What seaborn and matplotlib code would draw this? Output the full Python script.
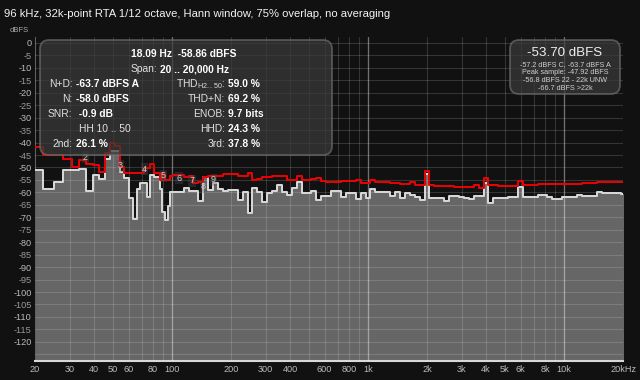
import numpy as np
import pandas as pd
import matplotlib
matplotlib.use('Agg')
import matplotlib.pyplot as plt
from matplotlib.patches import FancyBboxPatch
from matplotlib.transforms import IdentityTransform
from matplotlib.ticker import FixedLocator, FixedFormatter, NullFormatter
import seaborn as sns

# 96 kHz, 32k-point FFT
fs = 96000
nfft = 32768
fund = 18.09

# low end drawn per FFT bin (bins 7..34)
bin_k = np.arange(7, 35)
bin_level = [-51.0, -58.8, -55.7, -51.0, -51.0, -50.6, -59.5, -53.0, -54.8, -46.7,
             -43.2, -43.2, -51.7, -54.4, -62.4, -70.8, -58.8, -56.4, -56.4, -62.0,
             -53.0, -53.7, -53.7, -58.8, -67.7, -71.1, -65.5, -59.7]
bin_peak = [-41.9, -45.0, -45.0, -46.7, -50.0, -47.0, -48.5, -49.0, -51.7, -44.2,
            -40.3, -41.5, -49.6, -52.3, -52.3, -52.3, -52.3, -52.3, -50.3, -50.3,
            -48.7, -52.3, -52.3, -55.0, -52.5, -55.0, -55.0, -53.5]

# above ~100 Hz: 1/12 octave bands, n steps from 1 kHz
band_n = np.arange(-39, 53)
band_level = [-59.7, -59.7, -58.4, -59.5, -59.5, -63.5, -53.7, -59.0, -56.4, -58.8,
              -59.3, -59.0, -59.0, -63.0, -59.7, -68.4, -58.4, -59.7, -63.7, -60.4,
              -59.3, -57.0, -59.7, -61.0, -58.4, -55.9, -60.4, -60.4, -59.3, -63.0,
              -61.4, -61.4, -59.3, -59.3, -61.7, -60.4, -60.4, -62.8, -60.4,
              -62.4, -58.8, -59.7, -59.7, -59.7, -61.6, -60.0, -62.4, -60.4, -61.0,
              -61.7, -63.0, -52.6, -62.4, -62.4, -62.4, -63.4, -61.6, -61.6, -61.8,
              -62.4, -62.8, -61.4, -61.4, -56.4, -64.4, -62.1, -62.1, -62.1, -62.0,
              -62.0, -58.0, -62.0, -62.0, -62.0, -61.0, -61.0, -62.0, -62.8, -62.8,
              -61.8, -62.0, -62.0, -61.0, -61.6, -61.6, -61.6, -59.7, -60.4, -60.4,
              -60.4, -60.4, -60.8]
band_peak = [-53.0, -53.0, -53.7, -53.5, -56.4, -56.0, -53.7, -53.4, -53.4, -53.4,
             -52.6, -52.7, -52.7, -53.4, -53.4, -52.3, -55.0, -54.6, -53.8, -53.8,
             -53.4, -53.4, -53.4, -55.2, -55.2, -53.4, -55.2, -55.2, -54.6, -54.3,
             -55.3, -55.9, -55.9, -55.9, -55.6, -55.3, -55.3, -55.0, -56.3,
             -56.3, -55.2, -55.9, -55.9, -55.9, -56.3, -56.3, -56.6, -56.6, -56.0,
             -57.0, -57.0, -51.3, -57.0, -57.4, -57.4, -57.6, -57.6, -58.0, -58.0,
             -57.9, -57.9, -57.0, -58.2, -54.1, -57.0, -57.0, -57.6, -57.6, -57.4,
             -57.4, -55.3, -57.0, -57.0, -57.0, -56.8, -56.8, -56.8, -56.6, -56.6,
             -56.6, -56.6, -56.6, -56.6, -56.3, -56.3, -56.3, -55.8, -55.8, -56.0,
             -56.0, -56.0, -56.0]

harm_order = [2, 3, 4, 5, 6, 7, 8, 9]
harm_label_db = [-45.9, -49.3, -50.7, -53.4, -54.3, -55.4, -57.7, -55.0]

xtick_vals = [20, 30, 40, 50, 60, 80, 100, 200, 300, 400, 600, 800,
              1000, 2000, 3000, 4000, 5000, 6000, 8000, 10000, 20000]
xtick_text = ['20', '30', '40', '50', '60', '80', '100', '200', '300', '400', '600', '800',
              '1k', '2k', '3k', '4k', '5k', '6k', '8k', '10k', '20kHz']
xgrid_vals = [20, 30, 40, 50, 60, 70, 80, 90, 200, 300, 400, 500, 600, 700, 800, 900,
              2000, 3000, 4000, 5000, 6000, 7000, 8000, 9000, 20000]
decades = [100, 1000, 10000]

# step edges
df_bin = fs / nfft
bin_left = (bin_k - 0.5) * df_bin
band_center = 1000 * 2.0 ** (band_n / 12)
band_left = band_center * 2 ** (-1 / 24)
band_left[0] = (bin_k[-1] + 0.5) * df_bin
edges = np.concatenate([bin_left, band_left, [band_center[-1] * 2 ** (1 / 24)]])
level = np.array(bin_level + band_level)
peak = np.array(bin_peak + band_peak)
spec = pd.DataFrame({'freq': edges,
                     'level': np.append(level, level[-1]),
                     'peak': np.append(peak, peak[-1])})

sns.set_style('dark')
plt.rcParams['font.family'] = ['Liberation Sans', 'DejaVu Sans']

BG = '#111111'
fig = plt.figure(figsize=(6.4, 3.8), dpi=100, facecolor=BG)
ax = fig.add_axes([35 / 640, 1 - 361 / 380, 588 / 640, 323.5 / 380], facecolor=BG)

ax.fill_between(spec['freq'], spec['level'], -140, step='post', color='#666666', lw=0, zorder=1)
sns.lineplot(data=spec, x='freq', y='level', drawstyle='steps-post', color='#d6d6d6',
             lw=1.45, estimator=None, sort=False, legend=False, ax=ax, zorder=3)
sns.lineplot(data=spec, x='freq', y='peak', drawstyle='steps-post', color='#e80000',
             lw=1.45, estimator=None, sort=False, legend=False, ax=ax, zorder=3.1)

ax.set_xscale('log')
ax.set_xlim(20, 20000)
ax.set_ylim(-127.7, 2.2)

# grid
ax.set_axisbelow(False)
ax.xaxis.set_major_locator(FixedLocator(xtick_vals))
ax.xaxis.set_major_formatter(FixedFormatter(xtick_text))
ax.xaxis.set_minor_locator(FixedLocator(xgrid_vals))
ax.xaxis.set_minor_formatter(NullFormatter())
yt = np.arange(-125, 1, 5)
ax.set_yticks(yt)
ax.set_yticklabels(['' if v == -125 else str(v) for v in yt])
ax.grid(True, which='both', axis='x', color='white', alpha=0.15, lw=0.8)
ax.grid(True, which='major', axis='y', color='white', alpha=0.15, lw=0.8)
for d in decades:
    ax.axvline(d, color='white', alpha=0.3, lw=1.0, zorder=2.6)

ax.tick_params(axis='both', which='both', length=0, labelsize=6.6, colors='#bbbbbb')
ax.tick_params(axis='x', pad=3)
ax.tick_params(axis='y', pad=2.5)
for lab, v in zip(ax.get_yticklabels(), yt):
    if v % 10 != 0:
        lab.set_color('#9a9a9a')
ax.set_xlabel('')
ax.set_ylabel('')
for s in ['top', 'right']:
    ax.spines[s].set_visible(False)
ax.spines['left'].set_color('#444444')
ax.spines['bottom'].set_color('#d8d8d8')
ax.spines['bottom'].set_linewidth(1.5)

# harmonic markers
for h, db in zip(harm_order, harm_label_db):
    ax.text(fund * h, db, str(h), color='#cccccc', fontsize=6.5, ha='center', va='center', zorder=4,
            bbox=dict(boxstyle='square,pad=0.15', facecolor='#555555', alpha=0.3, lw=0))

# title and unit
fig.text(4 / 640, 1 - 14 / 380, '96 kHz, 32k-point RTA 1/12 octave, Hann window, 75% overlap, no averaging',
         color='#f2f2f2', fontsize=8.1, va='center', ha='left')
fig.text(10 / 640, 1 - 30 / 380, 'dBFS', color='#aaaaaa', fontsize=5.5, va='center')


def box(x0, y0, x1, y1):
    p = FancyBboxPatch((x0, 380 - y1), x1 - x0, y1 - y0, boxstyle='round,pad=0,rounding_size=9',
                       transform=IdentityTransform(), facecolor='#3a3a3a', alpha=0.72,
                       edgecolor='#6a6a6a', lw=1.3, zorder=5)
    fig.add_artist(p)


def put(x, y, s, ha='left', bold=False, size=7.4, color='#e0e0e0'):
    fig.text(x / 640, 1 - y / 380, s, ha=ha, va='center', fontsize=size, color=color,
             fontweight='bold' if bold else 'normal', zorder=6)


box(40, 40, 332, 155)
put(183.5, 54, '18.09 Hz  -58.86 dBFS', ha='center', bold=True, color='white')
put(157, 69, 'Span:', ha='right')
put(160, 69, '20 .. 20,000 Hz', bold=True, color='white')
rows = [(84, 'N+D:', '-63.7 dBFS A', r'THD$_{\mathregular{H2..50}}$:', '59.0 %'),
        (99, 'N:', '-58.0 dBFS', 'THD+N:', '69.2 %'),
        (113.7, 'SNR:', ' -0.9 dB', 'ENOB:', '9.7 bits'),
        (128.7, None, None, 'HHD:', '24.3 %'),
        (143.7, '2nd:', '26.1 %', '3rd:', '37.8 %')]
for y, l1, v1, l2, v2 in rows:
    if l1:
        put(72.5, y, l1, ha='right')
        put(75.5, y, v1, bold=True, color='white')
    put(225, y, l2, ha='right')
    put(228, y, v2, bold=True, color='white')
put(104.5, 128.7, 'HH 10 .. 50', ha='center')

box(510, 40, 620, 94)
put(564.5, 53.5, '-53.70 dBFS', ha='center', size=9.6, color='#eeeeee')
put(565, 64.3, '-57.2 dBFS C, -63.7 dBFS A', ha='center', size=5.2, color='#d0d0d0')
put(565, 72.7, 'Peak sample: -47.92 dBFS', ha='center', size=5.2, color='#d0d0d0')
put(565, 81, '-56.8 dBFS 22 - 22k UNW', ha='center', size=5.2, color='#d0d0d0')
put(565, 89, '-66.7 dBFS >22k', ha='center', size=5.2, color='#d0d0d0')

fig.savefig('out.png', dpi=100, facecolor=BG)
